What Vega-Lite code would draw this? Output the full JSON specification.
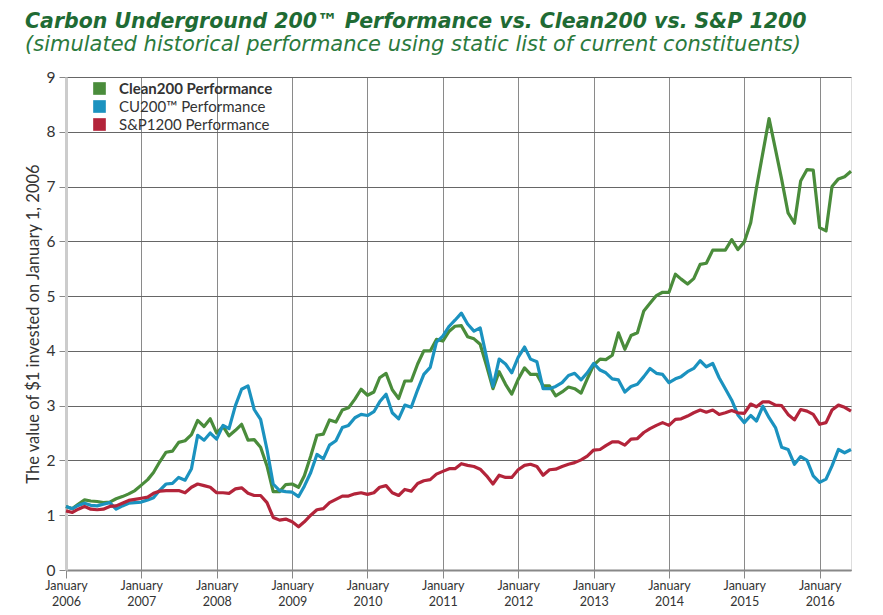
{
"$schema": "https://vega.github.io/schema/vega-lite/v6.json",
"width": 785, "height": 493,
"autosize": "none",
"padding": {"left": 66, "top": 77, "right": 32, "bottom": 45},
"background": "white",
"title": {
  "text": "Carbon Underground 200™ Performance vs. Clean200 vs. S&P 1200",
  "subtitle": "(simulated historical performance using static list of current constituents)",
  "anchor": "start", "frame": "group", "dx": -41, "offset": 15,
  "font": "DejaVu Sans", "fontSize": 20.5, "fontWeight": "bold", "fontStyle": "italic", "color": "#1f6b34",
  "subtitleFont": "DejaVu Sans", "subtitleFontSize": 21, "subtitleFontWeight": 200, "subtitleFontStyle": "italic", "subtitleColor": "#2b7a3d", "subtitlePadding": 2
},
"data": {
  "format": {"parse": {"d": "date:'%Y-%m'"}},
  "values": [
{"d":"2006-01","g":1.16,"b":1.16,"r":1.08},
{"d":"2006-02","g":1.12,"b":1.12,"r":1.05},
{"d":"2006-03","g":1.20,"b":1.18,"r":1.11},
{"d":"2006-04","g":1.28,"b":1.22,"r":1.16},
{"d":"2006-05","g":1.26,"b":1.18,"r":1.11},
{"d":"2006-06","g":1.25,"b":1.17,"r":1.10},
{"d":"2006-07","g":1.23,"b":1.20,"r":1.11},
{"d":"2006-08","g":1.24,"b":1.23,"r":1.16},
{"d":"2006-09","g":1.30,"b":1.11,"r":1.17},
{"d":"2006-10","g":1.34,"b":1.17,"r":1.22},
{"d":"2006-11","g":1.39,"b":1.22,"r":1.27},
{"d":"2006-12","g":1.45,"b":1.23,"r":1.29},
{"d":"2007-01","g":1.55,"b":1.24,"r":1.31},
{"d":"2007-02","g":1.65,"b":1.28,"r":1.33},
{"d":"2007-03","g":1.78,"b":1.32,"r":1.40},
{"d":"2007-04","g":1.98,"b":1.46,"r":1.44},
{"d":"2007-05","g":2.15,"b":1.57,"r":1.45},
{"d":"2007-06","g":2.17,"b":1.58,"r":1.45},
{"d":"2007-07","g":2.33,"b":1.69,"r":1.45},
{"d":"2007-08","g":2.36,"b":1.64,"r":1.41},
{"d":"2007-09","g":2.47,"b":1.85,"r":1.51},
{"d":"2007-10","g":2.73,"b":2.46,"r":1.57},
{"d":"2007-11","g":2.62,"b":2.37,"r":1.54},
{"d":"2007-12","g":2.76,"b":2.50,"r":1.51},
{"d":"2008-01","g":2.50,"b":2.39,"r":1.41},
{"d":"2008-02","g":2.62,"b":2.64,"r":1.41},
{"d":"2008-03","g":2.45,"b":2.58,"r":1.40},
{"d":"2008-04","g":2.55,"b":3.00,"r":1.48},
{"d":"2008-05","g":2.66,"b":3.30,"r":1.50},
{"d":"2008-06","g":2.37,"b":3.36,"r":1.40},
{"d":"2008-07","g":2.38,"b":2.93,"r":1.36},
{"d":"2008-08","g":2.24,"b":2.75,"r":1.36},
{"d":"2008-09","g":1.90,"b":2.20,"r":1.23},
{"d":"2008-10","g":1.43,"b":1.57,"r":0.96},
{"d":"2008-11","g":1.43,"b":1.45,"r":0.91},
{"d":"2008-12","g":1.56,"b":1.43,"r":0.93},
{"d":"2009-01","g":1.57,"b":1.42,"r":0.88},
{"d":"2009-02","g":1.51,"b":1.34,"r":0.79},
{"d":"2009-03","g":1.72,"b":1.53,"r":0.88},
{"d":"2009-04","g":2.08,"b":1.78,"r":1.00},
{"d":"2009-05","g":2.46,"b":2.11,"r":1.10},
{"d":"2009-06","g":2.48,"b":2.03,"r":1.12},
{"d":"2009-07","g":2.74,"b":2.28,"r":1.23},
{"d":"2009-08","g":2.70,"b":2.36,"r":1.29},
{"d":"2009-09","g":2.92,"b":2.60,"r":1.35},
{"d":"2009-10","g":2.96,"b":2.64,"r":1.35},
{"d":"2009-11","g":3.12,"b":2.78,"r":1.39},
{"d":"2009-12","g":3.30,"b":2.84,"r":1.41},
{"d":"2010-01","g":3.19,"b":2.82,"r":1.38},
{"d":"2010-02","g":3.25,"b":2.89,"r":1.41},
{"d":"2010-03","g":3.51,"b":3.07,"r":1.51},
{"d":"2010-04","g":3.59,"b":3.21,"r":1.54},
{"d":"2010-05","g":3.29,"b":2.87,"r":1.41},
{"d":"2010-06","g":3.13,"b":2.76,"r":1.36},
{"d":"2010-07","g":3.45,"b":3.01,"r":1.47},
{"d":"2010-08","g":3.45,"b":2.97,"r":1.44},
{"d":"2010-09","g":3.76,"b":3.29,"r":1.58},
{"d":"2010-10","g":4.00,"b":3.57,"r":1.63},
{"d":"2010-11","g":4.00,"b":3.70,"r":1.65},
{"d":"2010-12","g":4.21,"b":4.16,"r":1.75},
{"d":"2011-01","g":4.18,"b":4.27,"r":1.80},
{"d":"2011-02","g":4.36,"b":4.45,"r":1.85},
{"d":"2011-03","g":4.45,"b":4.56,"r":1.85},
{"d":"2011-04","g":4.46,"b":4.69,"r":1.94},
{"d":"2011-05","g":4.26,"b":4.49,"r":1.91},
{"d":"2011-06","g":4.22,"b":4.36,"r":1.89},
{"d":"2011-07","g":4.12,"b":4.42,"r":1.84},
{"d":"2011-08","g":3.73,"b":3.88,"r":1.72},
{"d":"2011-09","g":3.31,"b":3.35,"r":1.57},
{"d":"2011-10","g":3.62,"b":3.85,"r":1.73},
{"d":"2011-11","g":3.39,"b":3.76,"r":1.69},
{"d":"2011-12","g":3.21,"b":3.60,"r":1.69},
{"d":"2012-01","g":3.48,"b":3.88,"r":1.83},
{"d":"2012-02","g":3.69,"b":4.07,"r":1.91},
{"d":"2012-03","g":3.57,"b":3.85,"r":1.93},
{"d":"2012-04","g":3.57,"b":3.80,"r":1.89},
{"d":"2012-05","g":3.36,"b":3.31,"r":1.73},
{"d":"2012-06","g":3.36,"b":3.31,"r":1.83},
{"d":"2012-07","g":3.18,"b":3.35,"r":1.84},
{"d":"2012-08","g":3.25,"b":3.42,"r":1.89},
{"d":"2012-09","g":3.34,"b":3.55,"r":1.93},
{"d":"2012-10","g":3.31,"b":3.59,"r":1.96},
{"d":"2012-11","g":3.23,"b":3.47,"r":2.01},
{"d":"2012-12","g":3.49,"b":3.60,"r":2.08},
{"d":"2013-01","g":3.74,"b":3.77,"r":2.19},
{"d":"2013-02","g":3.85,"b":3.65,"r":2.20},
{"d":"2013-03","g":3.84,"b":3.60,"r":2.27},
{"d":"2013-04","g":3.92,"b":3.49,"r":2.34},
{"d":"2013-05","g":4.33,"b":3.47,"r":2.34},
{"d":"2013-06","g":4.03,"b":3.25,"r":2.28},
{"d":"2013-07","g":4.28,"b":3.35,"r":2.39},
{"d":"2013-08","g":4.33,"b":3.39,"r":2.40},
{"d":"2013-09","g":4.73,"b":3.53,"r":2.51},
{"d":"2013-10","g":4.87,"b":3.68,"r":2.58},
{"d":"2013-11","g":5.01,"b":3.59,"r":2.64},
{"d":"2013-12","g":5.07,"b":3.57,"r":2.69},
{"d":"2014-01","g":5.07,"b":3.42,"r":2.64},
{"d":"2014-02","g":5.40,"b":3.49,"r":2.75},
{"d":"2014-03","g":5.31,"b":3.53,"r":2.76},
{"d":"2014-04","g":5.22,"b":3.62,"r":2.81},
{"d":"2014-05","g":5.32,"b":3.68,"r":2.87},
{"d":"2014-06","g":5.58,"b":3.82,"r":2.92},
{"d":"2014-07","g":5.60,"b":3.71,"r":2.88},
{"d":"2014-08","g":5.84,"b":3.77,"r":2.92},
{"d":"2014-09","g":5.84,"b":3.51,"r":2.84},
{"d":"2014-10","g":5.84,"b":3.31,"r":2.87},
{"d":"2014-11","g":6.03,"b":3.10,"r":2.91},
{"d":"2014-12","g":5.85,"b":2.83,"r":2.87},
{"d":"2015-01","g":5.99,"b":2.69,"r":2.86},
{"d":"2015-02","g":6.34,"b":2.82,"r":3.03},
{"d":"2015-03","g":6.98,"b":2.72,"r":2.98},
{"d":"2015-04","g":7.62,"b":2.99,"r":3.07},
{"d":"2015-05","g":8.24,"b":2.78,"r":3.07},
{"d":"2015-06","g":7.68,"b":2.60,"r":3.01},
{"d":"2015-07","g":7.13,"b":2.24,"r":3.00},
{"d":"2015-08","g":6.52,"b":2.20,"r":2.84},
{"d":"2015-09","g":6.33,"b":1.93,"r":2.74},
{"d":"2015-10","g":7.10,"b":2.07,"r":2.93},
{"d":"2015-11","g":7.31,"b":2.00,"r":2.90},
{"d":"2015-12","g":7.30,"b":1.72,"r":2.84},
{"d":"2016-01","g":6.25,"b":1.60,"r":2.66},
{"d":"2016-02","g":6.19,"b":1.66,"r":2.69},
{"d":"2016-03","g":7.00,"b":1.90,"r":2.92},
{"d":"2016-04","g":7.14,"b":2.20,"r":3.01},
{"d":"2016-05","g":7.18,"b":2.14,"r":2.97},
{"d":"2016-06","g":7.28,"b":2.20,"r":2.90}
  ]
},
"transform": [{"fold": ["g", "b", "r"], "as": ["k", "v"]}],
"mark": {"type": "line", "strokeWidth": 3.2, "strokeJoin": "round"},
"encoding": {
  "x": {
    "field": "d", "type": "temporal",
    "scale": {"domain": [{"year": 2006, "month": 1, "date": 1}, {"year": 2016, "month": 6, "date": 1}], "nice": false},
    "axis": {
      "title": null,
      "tickCount": {"interval": "year", "step": 1},
      "labelExpr": "['January', timeFormat(datum.value, '%Y')]",
      "labelFont": "Lato", "labelFontSize": 12.5, "labelColor": "#333", "labelLineHeight": 16,
      "labelPadding": 1, "labelFlush": false, "labelOverlap": false,
      "tickSize": 8, "tickColor": "#888", "tickWidth": 1,
      "domainColor": "#888", "domainWidth": 2,
      "grid": true, "gridColor": "#8a8a8a", "gridWidth": 1
    }
  },
  "y": {
    "field": "v", "type": "quantitative",
    "scale": {"domain": [0, 9], "nice": false},
    "axis": {
      "title": "The value of $1 invested on January 1, 2006",
      "titleFont": "Lato", "titleFontSize": 16.5, "titleFontWeight": "normal", "titleColor": "#333", "titlePadding": 5,
      "values": [0,1,2,3,4,5,6,7,8,9],
      "labelFont": "Lato", "labelFontSize": 15.5, "labelColor": "#333", "labelPadding": 4,
      "tickSize": 7, "tickColor": "#888",
      "domainColor": "#ccc", "domainWidth": 3,
      "grid": true, "gridColor": "#666", "gridWidth": 1
    }
  },
  "color": {
    "field": "k", "type": "nominal",
    "scale": {"domain": ["g", "b", "r"], "range": ["#4a8c3b", "#1b92bf", "#b3243a"]},
    "legend": {
      "title": null, "orient": "none", "legendX": 26, "legendY": 4,
      "labelExpr": "{'g': 'Clean200 Performance', 'b': 'CU200™ Performance', 'r': 'S&P1200 Performance'}[datum.label]",
      "labelFont": "Lato", "labelFontSize": 15, "labelColor": "#333", "labelLimit": 400,
      "labelFontWeight": {"expr": "datum.value === 'g' ? 'bold' : 'normal'"},
      "symbolType": "square", "symbolSize": 160, "symbolStrokeWidth": 0,
      "symbolFillColor": {"expr": "scale('color', datum.value)"}, "symbolOpacity": 1,
      "rowPadding": 2, "labelOffset": 12
    }
  }
}
}
